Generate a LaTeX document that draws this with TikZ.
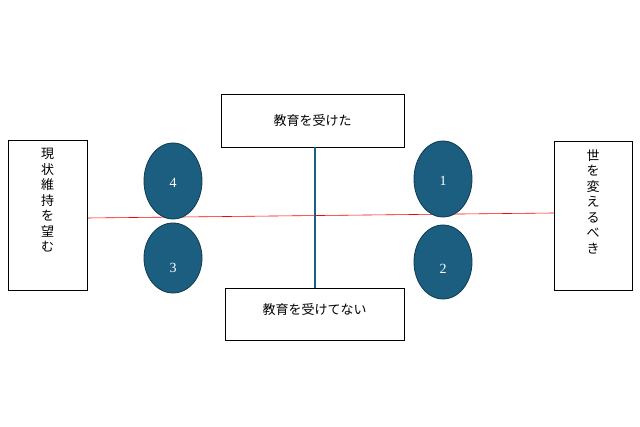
\documentclass[tikz,border=0pt]{standalone}
\usepackage{fontspec}
\setmainfont{Liberation Serif}
\newfontfamily\cjk{Noto Sans CJK JP}
\definecolor{blu}{HTML}{1B5E80}
\definecolor{edge}{HTML}{0E3A52}
\begin{document}
\begin{tikzpicture}[x=1pt,y=-1pt,
 box/.style={draw=black,fill=white,line width=0.8pt},
 oval/.style={draw=edge,fill=blu,line width=0.8pt},
 lbl/.style={font=\cjk\fontsize{13}{16}\selectfont},
 num/.style={text=white,font=\fontsize{14}{16}\selectfont}]
\useasboundingbox (0,0) rectangle (640,427);
\draw[red,line width=0.6pt] (87,218) coordinate (ra) -- (554,213) coordinate (rb);
\draw[box] (221,94) rectangle (404,147);
\node[lbl] (top) at (312.5,120.5) {教育を受けた};
\draw[box] (225,288) rectangle (404,340);
\node[lbl] (bot) at (314.5,310) {教育を受けてない};
\coordinate (vt) at (315,147); \coordinate (vb) at (315,288);
\draw[blu,line width=2pt] (vt) -- (vb);
\draw[box] (8,140) rectangle (87,290);
\node[align=center,anchor=north,inner sep=0pt,font=\cjk\fontsize{13}{15.5}\selectfont] (lt) at (47.5,148) {現\\状\\維\\持\\を\\望\\む};
\draw[box] (554,141) rectangle (632,290);
\node[align=center,anchor=north,inner sep=0pt,font=\cjk\fontsize{13}{15.5}\selectfont] (rt) at (593,149) {世\\を\\変\\え\\る\\べ\\き};
\draw[oval] (173,181) ellipse (29 and 38); \node[num] (n4) at (173,183) {4};
\draw[oval] (173,258) ellipse (29 and 35); \node[num] (n3) at (173,268) {3};
\draw[oval] (443,179) ellipse (29 and 38); \node[num] (n1) at (443,181) {1};
\draw[oval] (443,262) ellipse (29 and 37); \node[num] (n2) at (443,269) {2};
\end{tikzpicture}
\end{document}
